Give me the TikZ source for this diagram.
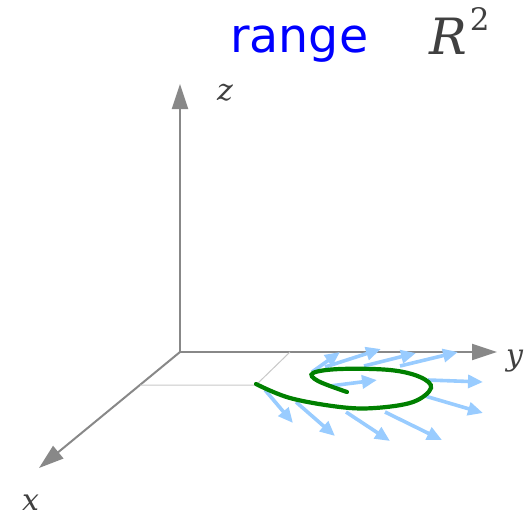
\documentclass[tikz,border=0pt]{standalone}
\usepackage{fontspec}
\setmainfont{DejaVu Serif}
\setsansfont{DejaVu Sans}
\usepackage{tikz}
\usetikzlibrary{arrows.meta}
\definecolor{axisgray}{HTML}{888888}
\definecolor{gridgray}{HTML}{C8C8C8}
\definecolor{fieldblue}{HTML}{99CCFF}
\definecolor{curvegreen}{HTML}{008000}
\definecolor{labelgray}{HTML}{404040}

\begin{document}
\begin{tikzpicture}[x=1pt,y=-1pt,
  axis/.style={draw=axisgray,line width=2pt,-{Triangle[length=25pt,width=16pt]}},
  guide/.style={draw=gridgray,line width=1pt},
  field/.style={draw=fieldblue,line width=3.6pt,-{Triangle[length=15pt,width=13pt]}},
  axlabel/.style={inner sep=0pt,anchor=base west,text=labelgray,font=\itshape\fontsize{30}{30}\selectfont}]
\useasboundingbox (0,0) rectangle (530,517);
% axes
\coordinate (O) at (180,352);
\coordinate (zend) at (180,84);
\coordinate (yend) at (497,352);
\coordinate (xend) at (39,468);
\draw[axis] (O) -- (zend);
\draw[axis] (O) -- (yend);
\draw[axis] (O) -- (xend);
\node[axlabel] (zlab) at (217,100) {z};
\node[axlabel] (ylab) at (506,365) {y};
\node[axlabel] (xlab) at (22,510) {x};
% projection of start point
\coordinate (py) at (290,352);
\coordinate (pxy) at (256,385);
\coordinate (px) at (140,385);
\draw[guide] (py) -- (pxy) -- (px);
% vector field
\foreach \a/\b/\c/\d in {312/372/340/352, 325/367/381/349, 364/366/416/353, 400/366/458/352,
  330/386/377/380, 428/380/483/382, 425/396/483/413,
  265/390/293/423, 296/402/335/436, 346/412/390/441, 385/412/442/440}
  \draw[field] (\a,\b) -- (\c,\d);
% image curve
\draw[curvegreen,line width=4.2pt,line cap=round] plot[smooth,tension=0.6] coordinates
  {(256,384) (290,398) (340,407) (375,408) (413,402) (431,388) (420,377) (390,370)
   (340,369) (313,373) (318,381) (347,392)};
% title
\node[inner sep=0pt,anchor=base west,text=blue,font=\sffamily\fontsize{47.5}{48}\selectfont] (title) at (230,52) {range};
\node[inner sep=0pt,anchor=base west,text=labelgray,font=\fontsize{50}{50}\selectfont] (space) at (429,54) {\textit{R}\hspace{3pt}\raisebox{24pt}{\fontsize{31}{31}\selectfont 2}};
\end{tikzpicture}
\end{document}
